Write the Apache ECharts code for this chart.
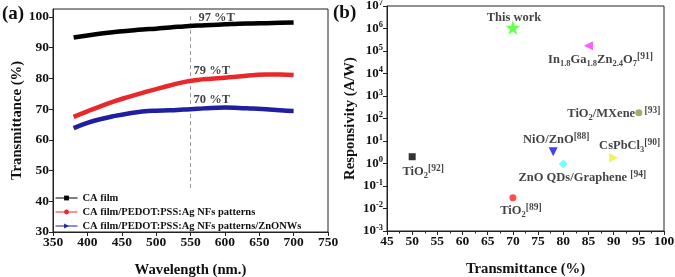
<!DOCTYPE html>
<html>
<head>
<meta charset="utf-8">
<script src="https://cdn.jsdelivr.net/npm/echarts@6/dist/echarts.min.js"></script>
<style>
  html, body { margin: 0; padding: 0; background: #fff; }
  #main { width: 675px; height: 277px; }
</style>
</head>
<body>
<div id="main"></div>
<script>
// (a) transmittance spectra
const wavelengths = [380, 400, 420, 440, 460, 480, 500, 520, 540, 560, 580, 600, 620, 640, 660, 680, 700];
const caFilm =      [93.3, 94.0, 94.6, 95.1, 95.5, 95.9, 96.2, 96.6, 96.9, 97.2, 97.4, 97.6, 97.8, 97.9, 98.0, 98.1, 98.2];
const caPedot =     [67.5, 69.3, 71.0, 72.6, 74.0, 75.3, 76.5, 77.7, 78.8, 79.5, 79.9, 80.2, 80.6, 81.0, 81.3, 81.3, 81.1];
const caPedotZno =  [63.8, 65.5, 66.8, 67.8, 68.6, 69.2, 69.5, 69.6, 69.9, 70.1, 70.4, 70.5, 70.4, 70.2, 70.0, 69.6, 69.4];
const seriesNames = ['CA film', 'CA film/PEDOT:PSS:Ag NFs patterns', 'CA film/PEDOT:PSS:Ag NFs patterns/ZnONWs'];
const markWl = 550;
const notes = [['97 %T', 588, 99.8], ['79 %T', 581, 82.5], ['70 %T', 581, 73.0]];

// (b) responsivity vs transmittance
const devices = ['This work', 'In1.8Ga1.8Zn2.4O7', 'TiO2/MXene', 'NiO/ZnO', 'CsPbCl3', 'ZnO QDs/Graphene', 'TiO2', 'TiO2'];
const devTrans = [70, 85, 95, 78, 90, 80, 50, 70];
const devResp = [1.1e6, 1.7e5, 180, 3.3, 1.8, 0.95, 2.0, 0.03];

const FONT = 'Liberation Serif';

const chart = echarts.init(document.getElementById('main'));

const lineColors = ['#000000', '#e8282a', '#1f1fa0'];
const lineSymbols = ['rect', 'circle', 'triangle'];
const lineRot = [0, 0, -90];
const spectra = [caFilm, caPedot, caPedotZno];

const rich = {
  n: { fontFamily: FONT, fontWeight: 'bold', fontSize: 12.5, color: '#111', lineHeight: 17, verticalAlign: 'middle' },
  s: { fontFamily: FONT, fontWeight: 'bold', fontSize: 8.5, color: '#111', lineHeight: 8, verticalAlign: 'bottom' },
  r: { fontFamily: FONT, fontWeight: 'bold', fontSize: 9.5, color: '#111', lineHeight: 10, verticalAlign: 'top' }
};

// label text + placement for each device point
const devLabels = [
  { f: '{n|This work}', pos: 'top', off: [1, 7] },
  { f: '{n|In}{s|1.8}{n|Ga}{s|1.8}{n|Zn}{s|2.4}{n|O}{s|7}{r|[91]}', pos: 'bottom', off: [12, 0] },
  { f: '{n|TiO}{s|2}{n|/MXene}{n|   }{r|[93]}', pos: 'inside', off: [-25, 1] },
  { f: '{n|NiO/ZnO}{r|[88]}', pos: 'top', off: [3, 2] },
  { f: '{n|CsPbCl}{s|3}{r|[90]}', pos: 'top', off: [16, 2] },
  { f: '{n|ZnO QDs/Graphene }{r|[94]}', pos: 'bottom', off: [19, 0] },
  { f: '{n|TiO}{s|2}{r|[92]}', pos: 'bottom', off: [11, 2] },
  { f: '{n|TiO}{s|2}{r|[89]}', pos: 'bottom', off: [8, 0] }
];
const devStyle = [
  { sym: 'path://M50,0 L61,35 L98,35 L68,57 L79,91 L50,70 L21,91 L32,57 L2,35 L39,35 Z', size: 15, rot: 0, c: '#44ff22' },
  { sym: 'triangle', size: 9, rot: 90, c: '#ff33ff' },
  { sym: 'circle', size: 7, rot: 0, c: '#8a9a3c' },
  { sym: 'triangle', size: 9, rot: 180, c: '#1212ee' },
  { sym: 'triangle', size: 9, rot: -90, c: '#eeee33' },
  { sym: 'diamond', size: 9, rot: 0, c: '#55ffff' },
  { sym: 'rect', size: 7, rot: 0, c: '#000000' },
  { sym: 'circle', size: 7, rot: 0, c: '#ff2222' }
];

const axisCommon = {
  nameMoveOverlap: false,
  axisLine: { onZero: false, lineStyle: { color: '#222', width: 1 } },
  axisTick: { inside: false, length: 4, lineStyle: { color: '#222' } },
  splitLine: { show: false },
  axisLabel: { fontFamily: FONT, fontWeight: 'bold', fontSize: 13.5, color: '#111', margin: 4 },
  nameTextStyle: { fontFamily: FONT, fontWeight: 'bold', fontSize: 14.7, color: '#111' }
};

const series = [];
spectra.forEach(function (vals, i) {
  series.push({
    name: seriesNames[i],
    type: 'line',
    xAxisIndex: 0, yAxisIndex: 0,
    data: wavelengths.map(function (w, k) { return [w, vals[k]]; }),
    smooth: true,
    showSymbol: false,
    symbol: lineSymbols[i],
    symbolRotate: lineRot[i],
    color: lineColors[i],
    lineStyle: { width: 4.5, color: lineColors[i] },
    z: 3
  });
});
series.push({
  type: 'line',
  xAxisIndex: 0, yAxisIndex: 0,
  data: [[markWl, 44.3], [markWl, 101.4]],
  symbol: 'none',
  silent: true,
  lineStyle: { color: '#999', width: 1, type: [4, 3] },
  z: 1
});
series.push({
  type: 'scatter',
  xAxisIndex: 0, yAxisIndex: 0,
  symbolSize: 0,
  silent: true,
  data: notes.map(function (n) { return { value: [n[1], n[2]], name: n[0] }; }),
  label: {
    show: true, position: 'inside', formatter: '{b}',
    fontFamily: FONT, fontWeight: 'bold', fontSize: 12.5, color: '#111'
  }
});
series.push({
  type: 'scatter',
  xAxisIndex: 1, yAxisIndex: 1,
  silent: true,
  data: devices.map(function (d, i) {
    return {
      name: d,
      value: [devTrans[i], devResp[i]],
      symbol: devStyle[i].sym,
      symbolSize: devStyle[i].size,
      symbolRotate: devStyle[i].rot,
      itemStyle: { color: devStyle[i].c },
      label: { show: true, formatter: devLabels[i].f, position: devLabels[i].pos, offset: devLabels[i].off, distance: 1, rich: rich }
    };
  })
});

chart.setOption({
  animation: false,
  backgroundColor: '#fff',
  graphic: [
    { type: 'text', left: 2, top: 5, style: { text: '(a)', font: 'bold 19px "Liberation Serif"', fill: '#111' } },
    { type: 'text', left: 333, top: 4, style: { text: '(b)', font: 'bold 19px "Liberation Serif"', fill: '#111' } }
  ],
  grid: [
    { left: 53, top: 9, width: 275, height: 223, containLabel: false, outerBoundsMode: 'none',
      show: true, borderColor: '#222', borderWidth: 1, backgroundColor: 'transparent' },
    { left: 387, top: 6, width: 277, height: 225, containLabel: false, outerBoundsMode: 'none',
      show: true, borderColor: '#222', borderWidth: 1, backgroundColor: 'transparent' }
  ],
  legend: {
    data: seriesNames,
    orient: 'vertical',
    left: 50, top: 187,
    itemWidth: 22, itemHeight: 6,
    itemGap: 2,
    symbolRotate: 'inherit',
    lineStyle: { width: 1 },
    textStyle: { fontFamily: FONT, fontWeight: 'bold', fontSize: 10.5, lineHeight: 12, color: '#111' }
  },
  xAxis: [
    Object.assign({}, axisCommon, {
      gridIndex: 0, type: 'value', min: 350, max: 750, interval: 50,
      name: 'Wavelength (nm.)', nameLocation: 'middle', nameGap: 31
    }),
    Object.assign({}, axisCommon, {
      gridIndex: 1, type: 'value', min: 45, max: 100, interval: 5,
      minorTick: { show: true, splitNumber: 2, length: 2.5, lineStyle: { color: '#222' } },
      name: 'Transmittance (%)', nameLocation: 'middle', nameGap: 31
    })
  ],
  yAxis: [
    Object.assign({}, axisCommon, {
      gridIndex: 0, type: 'value', min: 30, max: 102.6, interval: 10,
      axisLabel: Object.assign({}, axisCommon.axisLabel, { showMaxLabel: false }),
      name: 'Transmittance (%)', nameLocation: 'middle', nameGap: 28
    }),
    Object.assign({}, axisCommon, {
      gridIndex: 1, type: 'log', logBase: 10, min: 0.001, max: 1e7, interval: 1,
      axisLabel: Object.assign({}, axisCommon.axisLabel, {
        formatter: function (v) { return '{b|10}{e|' + Math.round(Math.log10(v)) + '}'; },
        rich: {
          b: { fontFamily: FONT, fontWeight: 'bold', fontSize: 13, color: '#111', lineHeight: 16, verticalAlign: 'middle' },
          e: { fontFamily: FONT, fontWeight: 'bold', fontSize: 8.5, color: '#111', lineHeight: 8, verticalAlign: 'top' }
        }
      }),
      name: 'Responsivity (A/W)', nameLocation: 'middle', nameGap: 29
    })
  ],
  series: series
});
</script>
</body>
</html>
